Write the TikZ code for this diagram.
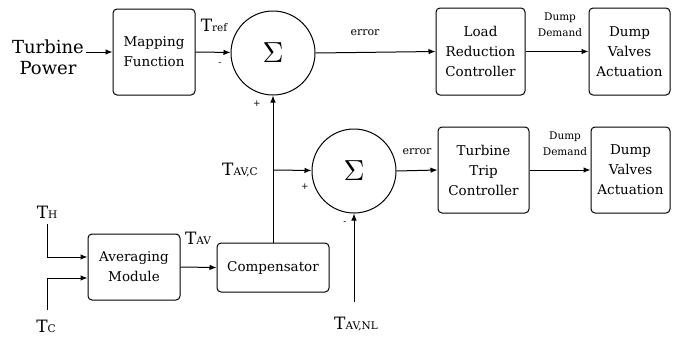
\documentclass[tikz,border=0pt]{standalone}
\usepackage{fontspec}
\usepackage{graphicx}
\setmainfont{DejaVuSerif}[Extension=.ttf,BoldFont=DejaVuSerif-Bold,ItalicFont=DejaVuSerif-Italic,BoldItalicFont=DejaVuSerif-BoldItalic]
\usetikzlibrary{arrows.meta,positioning}
\begin{document}
\begin{tikzpicture}[x=1pt,y=-1pt,
  blk/.style={draw,rounded corners=4pt,line width=1pt,align=center,inner sep=0pt,
     font=\fontsize{13.5}{20}\selectfont},
  sumc/.style={draw,circle,line width=1pt,minimum size=84pt,inner sep=0pt},
  lbl/.style={inner sep=0pt,align=center,font=\fontsize{11.5}{16}\selectfont},
  sgn/.style={inner sep=0pt,font=\fontsize{9}{10}\selectfont},
  tl/.style={inner sep=0pt,font=\fontsize{17}{20}\selectfont},
  arr/.style={line width=1pt,-{Latex[length=7pt,width=5.5pt]}},
  ln/.style={line width=1pt}]
\useasboundingbox (0,0) rectangle (674,341);
\newcommand{\Tsub}[1]{T{\fontsize{10.5}{12}\selectfont #1}}
\newcommand{\bigsig}{\scalebox{2.9}{$\Sigma$}}
% nodes
\node[inner sep=0pt,align=center,font=\fontsize{18}{21}\selectfont] (tp) at (48,57) {Turbine\\Power};
\node[blk,minimum width=82pt,minimum height=86pt] (map) at (154,52) {Mapping\\Function};
\node[sumc] (s1) at (273,53) {\bigsig};
\node[blk,minimum width=89pt,minimum height=87pt] (lrc) at (480.5,51.5) {Load\\Reduction\\Controller};
\node[blk,minimum width=81pt,minimum height=87pt] (dv1) at (629.5,51.5) {Dump\\Valves\\Actuation};
\node[sumc] (s2) at (354,171) {\bigsig};
\node[blk,minimum width=91pt,minimum height=86pt] (ttc) at (483.5,170) {Turbine\\Trip\\Controller};
\node[blk,minimum width=79pt,minimum height=86pt] (dv2) at (630.5,170) {Dump\\Valves\\Actuation};
\node[blk,minimum width=92pt,minimum height=66pt] (avg) at (134,267) {Averaging\\Module};
\node[blk,minimum width=112pt,minimum height=49pt] (comp) at (273,267.5) {Compensator};
% labels
\node[tl] (tref) at (214,25) {\Tsub{ref}};
\node[sgn] at (220,64) {-};
\node[sgn] at (257,104) {+};
\node[lbl,font=\fontsize{11}{14}\selectfont] (e1) at (365,33) {error};
\node[lbl,font=\fontsize{10.5}{16}\selectfont] (dd1) at (560,25) {Dump\\Demand};
\node[tl] (tavc) at (240,170) {\Tsub{AV,C}};
\node[sgn] at (305,187) {+};
\node[sgn] at (345,223) {-};
\node[tl] (tav) at (198,238) {\Tsub{AV}};
\node[lbl,font=\fontsize{11}{14}\selectfont] (e2) at (417,152) {error};
\node[lbl,font=\fontsize{10.5}{16}\selectfont] (dd2) at (565,144) {Dump\\Demand};
\node[tl] (th) at (47,212) {\Tsub{H}};
\node[tl] (tc) at (46,326) {\Tsub{C}};
\node[tl] (tnl) at (356,324) {\Tsub{AV,NL}};
\coordinate (j) at (273,170);
\coordinate (nlc) at (354,302);
\coordinate (thc) at (47,224);
\coordinate (tcc) at (47,310);
% connectors
\draw[arr] ([xshift=2pt]tp.east |- map.west) -- (map.west);
\draw[arr] (map.east) -- (s1);
\draw[arr] (s1.east) -- (lrc.west);
\draw[arr] (lrc.east) -- (dv1.west);
\draw[ln] (comp.north) -- (j);
\draw[arr] (j) -- (s1.south);
\draw[arr] (j) -- (s2);
\draw[arr] (nlc) -- (s2.south);
\draw[arr] (s2.east) -- (ttc.west);
\draw[arr] (ttc.east) -- (dv2.west);
\draw[arr] (avg.east) -- (comp.west);
\draw[arr] (thc) |- ([yshift=10pt]avg.west);
\draw[arr] (tcc) |- ([yshift=-11pt]avg.west);
\end{tikzpicture}
\end{document}
